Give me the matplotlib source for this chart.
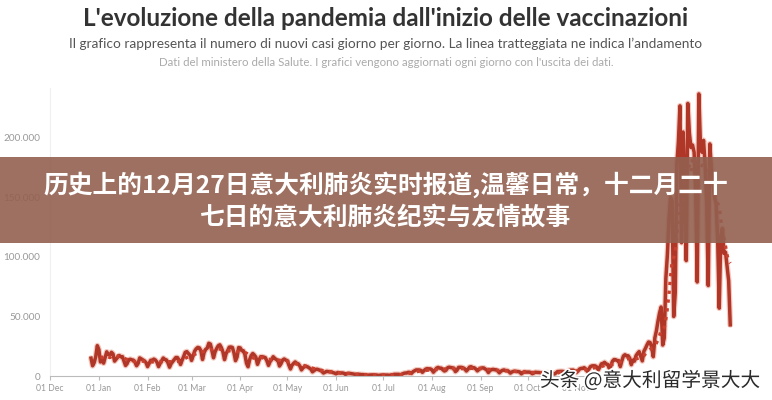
import matplotlib
matplotlib.use("Agg")
import matplotlib.pyplot as plt
import matplotlib.dates as mdates
import matplotlib.patheffects as pe
from matplotlib.patches import Rectangle
from matplotlib.ticker import FuncFormatter
import pandas as pd

# nuovi casi giornalieri (migliaia), dal 27 dic 2020
start_date = "2020-12-27"
dec20 = [15.0, 8.6, 11.2, 16.2, 25.5]
jan21 = [22.2, 11.8, 14.2, 10.8, 15.4, 20.3, 18.0, 17.5, 19.9, 18.6, 12.5, 14.2, 15.8, 17.2, 16.1, 16.3,
         12.5, 8.8, 10.5, 13.6, 14.1, 13.6, 13.3, 11.6, 8.6, 10.6, 15.2, 14.4, 13.6, 12.7, 11.3]
feb21 = [7.9, 10.6, 13.2, 13.1, 14.2, 13.4, 11.6, 7.9, 10.6, 12.9, 15.1, 13.9, 13.5, 11.1, 7.4, 10.4,
         12.1, 13.8, 15.5, 15.5, 13.5, 9.7, 13.3, 16.4, 19.9, 20.5, 18.9, 17.5]
mar21 = [13.1, 17.1, 20.9, 22.9, 24.0, 23.6, 21.0, 13.9, 19.7, 22.4, 23.4, 27.5, 26.8, 21.3, 15.3, 20.4,
         23.1, 25.4, 26.2, 23.8, 20.2, 13.8, 18.8, 21.3, 24.2, 24.4, 24.0, 19.6, 12.9, 16.0, 23.9]
apr21 = [23.6, 21.3, 21.2, 18.0, 10.7, 7.8, 13.7, 17.2, 18.9, 17.6, 15.7, 9.8, 13.4, 16.2, 16.2, 15.9,
         15.4, 12.7, 8.9, 12.1, 13.8, 16.2, 14.8, 13.8, 13.2, 8.4, 10.4, 13.4, 14.3, 13.4]
may21 = [12.9, 9.1, 5.9, 9.1, 10.6, 11.8, 10.6, 10.2, 8.3, 5.1, 6.9, 7.9, 8.1, 7.6, 6.7, 5.8,
         3.5, 4.5, 5.5, 5.7, 5.2, 4.7, 3.9, 2.5, 3.2, 3.9, 3.7, 3.4, 3.4, 2.9, 2.5]
jun21 = [1.8, 2.9, 2.6, 2.4, 2.6, 2.3, 1.3, 1.9, 2.2, 2.1, 1.9, 1.7, 1.4, 0.9, 1.3, 1.4,
         1.2, 1.2, 1.0, 0.9, 0.5, 0.8, 0.9, 0.9, 0.95, 0.8, 0.8, 0.4, 0.7, 0.8]
jul21 = [0.9, 0.8, 0.8, 0.8, 0.5, 0.9, 1.0, 1.4, 1.4, 1.4, 1.4, 0.9, 1.6, 2.2, 2.5, 2.5,
         3.1, 3.0, 2.1, 3.6, 4.3, 5.1, 5.1, 5.1, 4.7, 3.1, 4.5, 5.7, 6.2, 6.0, 6.0]
aug21 = [5.3, 3.2, 4.8, 6.6, 7.2, 6.6, 6.6, 5.3, 4.2, 4.8, 6.9, 7.4, 7.1, 6.9, 6.6, 3.7,
         4.8, 7.2, 7.3, 7.2, 6.8, 6.0, 4.2, 5.6, 7.5, 7.8, 7.0, 6.9, 5.9, 4.3, 5.5]
sep21 = [6.5, 6.8, 6.8, 5.9, 5.0, 2.9, 4.7, 5.3, 5.6, 5.3, 5.2, 4.2, 2.7, 4.0, 4.8, 5.1,
         4.5, 4.6, 3.8, 2.4, 3.4, 3.9, 4.0, 3.8, 3.7, 3.4, 1.8, 2.8, 3.6, 3.3]
oct21 = [3.3, 3.3, 2.9, 1.9, 2.5, 3.2, 3.0, 3.0, 2.8, 2.7, 1.9, 2.5, 2.8, 2.7, 2.7, 2.7,
         2.5, 1.6, 2.5, 3.7, 3.8, 3.9, 3.9, 3.7, 2.5, 3.1, 4.6, 4.9, 4.9, 5.0, 4.1]
nov21 = [2.9, 4.1, 5.8, 6.4, 6.4, 7.0, 5.8, 3.9, 5.8, 7.9, 8.5, 8.6, 8.5, 7.6, 5.1, 7.7,
         10.2, 10.6, 11.5, 10.0, 9.7, 6.4, 8.5, 12.4, 13.8, 13.7, 12.9, 12.9, 7.9, 12.8]
dec21 = [16.8, 17.9, 16.8, 17.0, 15.0, 9.5, 13.3, 12.5, 17.0, 19.0, 20.5, 16.7, 12.7, 20.7, 23.2, 26.1,
         28.6, 28.1, 24.3, 16.2, 32.0, 38.0, 46.0, 53.0, 58.0, 26.0, 32.0, 82.0, 102.0, 132.0, 150.0]
jan22 = [147.0, 50.0, 70.0, 178.0, 197.0, 227.0, 112.0, 205.0, 162.0, 97.0, 229.0, 204.0, 192.0, 194.0,
         188.0, 155.0, 79.0, 237.0, 196.0, 188.0, 198.0, 178.0, 144.0, 76.0, 195.0, 174.0, 162.0, 150.0,
         145.0, 114.0, 57.0]
feb22 = [117.0, 124.0, 103.0, 104.0, 92.0, 80.0, 43.0]

months = ["2020-12-01", "2021-01-01", "2021-02-01", "2021-03-01", "2021-04-01", "2021-05-01",
          "2021-06-01", "2021-07-01", "2021-08-01", "2021-09-01", "2021-10-01", "2021-11-01"]

title = "L'evoluzione della pandemia dall'inizio delle vaccinazioni"
subtitle = ("Il grafico rappresenta il numero di nuovi casi giorno per giorno. "
            "La linea tratteggiata ne indica l\u2019andamento")
source = "Dati del ministero della Salute. I grafici vengono aggiornati ogni giorno con l'uscita dei dati."
banner1 = "历史上的12月27日意大利肺炎实时报道,温馨日常，十二月二十"
banner2 = "七日的意大利肺炎纪实与友情故事"
watermark = "头条 @意大利留学景大大"

values = dec20 + jan21 + feb21 + mar21 + apr21 + may21 + jun21 + jul21 + aug21 + sep21 + oct21 + nov21 \
    + dec21 + jan22 + feb22
cases = pd.Series([v * 1000 for v in values],
                  index=pd.date_range(start_date, periods=len(values), freq="D"))
trend = cases.rolling(7).mean()

plt.rcParams["font.family"] = ["Lato", "DejaVu Sans"]
cjk = ["Noto Sans CJK SC", "DejaVu Sans"]

fig = plt.figure(figsize=(7.72, 4.0), dpi=100)
ax = fig.add_axes([0.065, 0.06, 0.887, 0.72])

ax.plot(cases.index, cases.values, color="#e0664c", lw=4.2, alpha=0.35, solid_capstyle="round")
ax.plot(cases.index, cases.values, color="#b03628", lw=2.5)
ax.plot(trend.index, trend.values, color="#c9412e", lw=2.4, ls=":")

ax.set_xlim(pd.Timestamp("2020-12-01"), pd.Timestamp("2022-02-10"))
ax.set_ylim(0, 242000)
ax.set_xticks(pd.to_datetime(months))
ax.xaxis.set_major_formatter(mdates.DateFormatter("%d %b"))
ax.set_yticks([0, 50000, 100000, 150000, 200000])
ax.yaxis.set_major_formatter(FuncFormatter(lambda v, p: f"{int(v):,}".replace(",", ".")))

ax.tick_params(axis="x", length=3, color="#bbbbbb", labelsize=6.2, labelcolor="#999999", pad=3)
ax.tick_params(axis="y", length=0, labelsize=7.2, labelcolor="#999999", pad=7)
for side in ["top", "right"]:
    ax.spines[side].set_visible(False)
ax.spines["bottom"].set_color("#bbbbbb")
ax.spines["left"].set_color("#f0f0f0")

fig.text(0.5, 1 - 18 / 400, title, ha="center", va="center", fontsize=17.5,
         fontweight="bold", color="#333333")
fig.text(0.5, 1 - 44 / 400, subtitle, ha="center", va="center", fontsize=9.8, color="#555555")
fig.text(0.5, 1 - 63 / 400, source, ha="center", va="center", fontsize=8.3, color="#aaaaaa")

fig.add_artist(Rectangle((0, 1 - 243 / 400), 1, 86 / 400, transform=fig.transFigure,
                         facecolor="#936050", alpha=0.9, edgecolor="none", zorder=5))
fig.text(0.5, 1 - 185 / 400, banner1, ha="center", va="center", fontsize=17.8,
         fontweight="bold", color="white", family=cjk, zorder=6)
fig.text(0.5, 1 - 218 / 400, banner2, ha="center", va="center", fontsize=17.8,
         fontweight="bold", color="white", family=cjk, zorder=6)

fig.text(0.985, 1 - 381 / 400, watermark, ha="right", va="center", fontsize=14.2, color="#2a2a2a",
         family=cjk, zorder=7,
         path_effects=[pe.withStroke(linewidth=2.5, foreground="white")])

fig.savefig("out.png", dpi=100)
